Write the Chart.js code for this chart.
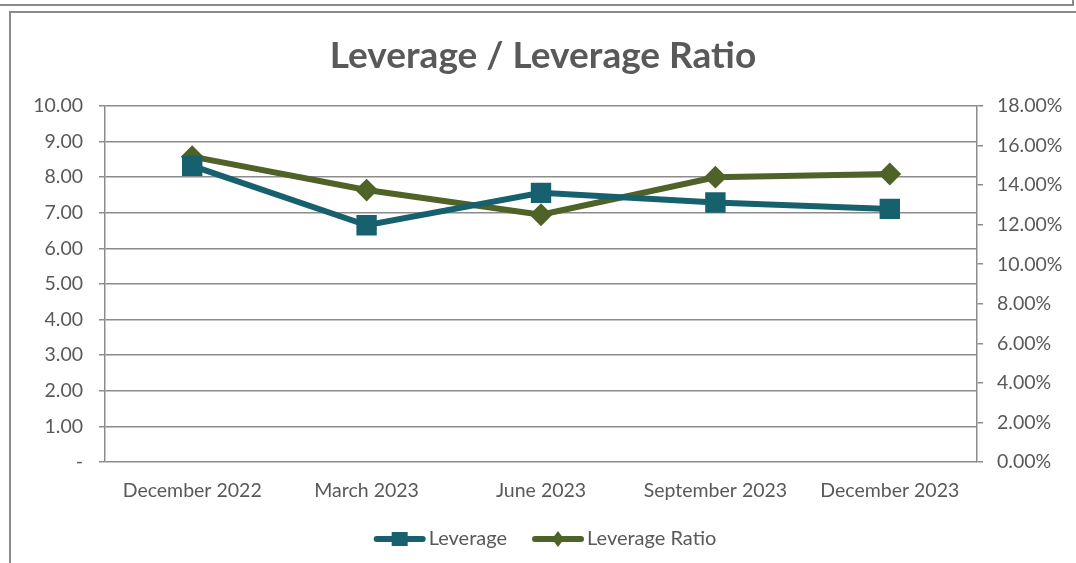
<!DOCTYPE html>
<html lang="en">
<head>
    <meta charset="UTF-8">
    <title>Leverage / Leverage Ratio</title>
    <script src="https://cdn.jsdelivr.net/npm/chart.js"></script>
    <style>
        body { margin: 0; background: #fff; }
        #wrap { position: relative; width: 1076px; height: 563px; overflow: hidden; }
        #topBox { position: absolute; left: -4px; top: -10px; width: 1074px; height: 12px; border: 2px solid #8a8a8a; }
        #frame { position: absolute; left: 9px; top: 11px; width: 1100px; height: 600px; border: 2px solid #8a8a8a; }
        canvas { position: absolute; left: 0; top: 0; }
    </style>
</head>
<body>
<div id="wrap">
    <div id="topBox"></div>
    <div id="frame"></div>
    <canvas id="levChart" width="1076" height="563"></canvas>
</div>

<script>
    // chart data
    const categories = ['December 2022', 'March 2023', 'June 2023', 'September 2023', 'December 2023'];
    const leverage = [8.32, 6.65, 7.56, 7.29, 7.11];
    const leverageRatio = [15.44, 13.75, 12.50, 14.40, 14.56];

    const textColor = '#595959';
    const gridColor = '#8c8c8c';
    const fontFamily = 'Lato, "Open Sans", sans-serif';
    const tickFont = { family: fontFamily, size: 19.5 };

    // legend drawn by hand: line with marker in the middle, like Excel
    const excelLegend = {
        id: 'excelLegend',
        afterDraw(chart) {
            const ctx = chart.ctx;
            const y = 539;
            ctx.save();
            ctx.font = '20px ' + fontFamily;
            const items = chart.data.datasets.map(ds => ({ ds, w: 52 + 3 + ctx.measureText(ds.label).width }));
            const total = items.reduce((s, it) => s + it.w, 0) + 25 * (items.length - 1);
            let x = 545 - total / 2;
            items.forEach(it => {
                const ds = it.ds;
                ctx.strokeStyle = ds.borderColor;
                ctx.lineWidth = 6;
                ctx.lineCap = 'round';
                ctx.beginPath();
                ctx.moveTo(x + 3, y);
                ctx.lineTo(x + 49, y);
                ctx.stroke();
                ctx.fillStyle = ds.borderColor;
                const cx = x + 26;
                ctx.beginPath();
                if (ds.pointStyle === 'rect') {
                    ctx.rect(cx - 8, y - 7, 16, 14);
                } else {
                    ctx.moveTo(cx, y - 8);
                    ctx.lineTo(cx + 6, y);
                    ctx.lineTo(cx, y + 8);
                    ctx.lineTo(cx - 6, y);
                    ctx.closePath();
                }
                ctx.fill();
                ctx.fillStyle = textColor;
                ctx.textBaseline = 'middle';
                ctx.textAlign = 'left';
                ctx.fillText(ds.label, x + 55, y);
                x += it.w + 25;
            });
            ctx.restore();
        }
    };

    const ctx = document.getElementById('levChart').getContext('2d');
    const levChart = new Chart(ctx, {
        type: 'line',
        data: {
            labels: categories,
            datasets: [{
                label: 'Leverage',
                data: leverage,
                yAxisID: 'y',
                borderColor: '#17616e',
                backgroundColor: '#17616e',
                borderWidth: 6,
                pointStyle: 'rect',
                pointRadius: 13,
                pointBorderWidth: 2,
                tension: 0
            }, {
                label: 'Leverage Ratio',
                data: leverageRatio,
                yAxisID: 'y1',
                borderColor: '#4f6228',
                backgroundColor: '#4f6228',
                borderWidth: 6,
                pointStyle: 'rectRot',
                pointRadius: 10,
                pointBorderWidth: 2,
                tension: 0
            }]
        },
        options: {
            responsive: false,
            animation: false,
            layout: { padding: { left: 10, right: 0, top: 0, bottom: 0 } },
            plugins: {
                legend: { display: false },
                tooltip: { enabled: false },
                title: {
                    display: true,
                    text: 'Leverage / Leverage Ratio',
                    color: textColor,
                    font: { family: fontFamily, size: 37, weight: 'bold', lineHeight: 1.2 },
                    padding: { top: 34, bottom: 27.6 }
                }
            },
            scales: {
                x: {
                    offset: true,
                    grid: { display: false, drawTicks: false },
                    border: { display: false },
                    ticks: { color: textColor, font: tickFont, padding: 17, maxRotation: 0 },
                    afterFit: (scale) => { scale.height = 101; }
                },
                y: {
                    position: 'left',
                    min: 0,
                    max: 10,
                    ticks: {
                        stepSize: 1,
                        color: textColor,
                        font: tickFont,
                        padding: 16,
                        callback: (v) => v === 0 ? '-' : v.toFixed(2)
                    },
                    grid: { color: gridColor, lineWidth: 1.5, tickLength: 6 },
                    border: { color: gridColor, width: 1.5 },
                    afterFit: (scale) => { scale.width = 95; }
                },
                y1: {
                    position: 'right',
                    min: 0,
                    max: 18,
                    ticks: {
                        stepSize: 2,
                        color: textColor,
                        font: tickFont,
                        padding: 14,
                        callback: (v) => v.toFixed(2) + '%'
                    },
                    grid: { drawOnChartArea: false, color: gridColor, lineWidth: 1.5, tickLength: 6 },
                    border: { color: gridColor, width: 1.5 },
                    afterFit: (scale) => { scale.width = 99; }
                }
            }
        },
        plugins: [excelLegend]
    });
</script>
</body>
</html>
